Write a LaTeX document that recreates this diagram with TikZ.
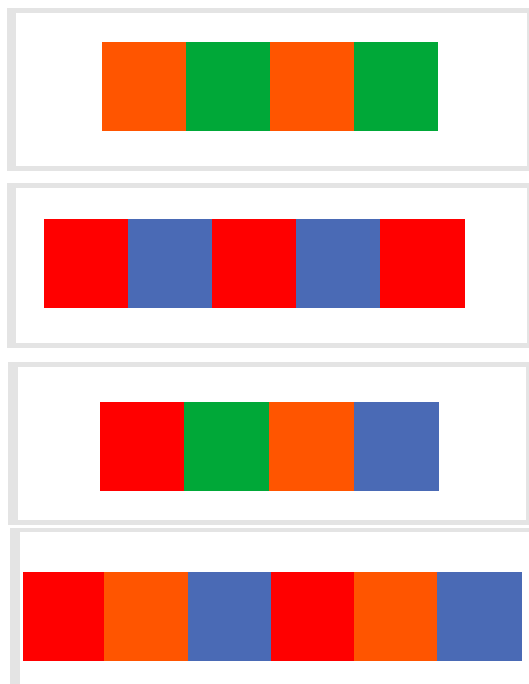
\documentclass[tikz,border=0pt]{standalone}
\definecolor{orng}{HTML}{FF5500}
\definecolor{grn}{HTML}{00A838}
\definecolor{rd}{HTML}{FF0000}
\definecolor{blu}{HTML}{4A6AB5}
\definecolor{frame}{HTML}{E4E4E4}
\tikzset{
  sq/.style={anchor=north west, inner sep=0pt, outer sep=0pt, draw=none, minimum height=89pt},
  outerframe/.style={fill=frame, draw=none},
  innerframe/.style={fill=white, draw=none}
}
\begin{document}
\begin{tikzpicture}[x=1pt,y=-1pt]
\useasboundingbox[fill=white] (0,0) rectangle (529,684);
% panel frames
\fill[outerframe] (7,8) rectangle (529,171);
\fill[innerframe] (16,13) rectangle (527,166);
\fill[outerframe] (7,183) rectangle (529,348);
\fill[innerframe] (16,188) rectangle (527,343);
\fill[outerframe] (8,362) rectangle (529,525);
\fill[innerframe] (18,367) rectangle (526,520);
\fill[outerframe] (10,528) rectangle (529,684);
\fill[innerframe] (20,532) rectangle (529,684);
% panel 1
\node[sq, fill=orng, minimum width=84pt] (a1) at (102,42) {};
\node[sq, fill=grn,  minimum width=84pt] (a2) at (186,42) {};
\node[sq, fill=orng, minimum width=84pt] (a3) at (270,42) {};
\node[sq, fill=grn,  minimum width=84pt] (a4) at (354,42) {};
% panel 2
\node[sq, fill=rd,  minimum width=84pt] (b1) at (44,219) {};
\node[sq, fill=blu, minimum width=84pt] (b2) at (128,219) {};
\node[sq, fill=rd,  minimum width=84pt] (b3) at (212,219) {};
\node[sq, fill=blu, minimum width=84pt] (b4) at (296,219) {};
\node[sq, fill=rd,  minimum width=85pt] (b5) at (380,219) {};
% panel 3
\node[sq, fill=rd,   minimum width=84pt] (c1) at (100,402) {};
\node[sq, fill=grn,  minimum width=85pt] (c2) at (184,402) {};
\node[sq, fill=orng, minimum width=85pt] (c3) at (269,402) {};
\node[sq, fill=blu,  minimum width=85pt] (c4) at (354,402) {};
% panel 4
\node[sq, fill=rd,   minimum width=81pt] (d1) at (23,572) {};
\node[sq, fill=orng, minimum width=84pt] (d2) at (104,572) {};
\node[sq, fill=blu,  minimum width=83pt] (d3) at (188,572) {};
\node[sq, fill=rd,   minimum width=83pt] (d4) at (271,572) {};
\node[sq, fill=orng, minimum width=83pt] (d5) at (354,572) {};
\node[sq, fill=blu,  minimum width=85pt] (d6) at (437,572) {};
\end{tikzpicture}
\end{document}
